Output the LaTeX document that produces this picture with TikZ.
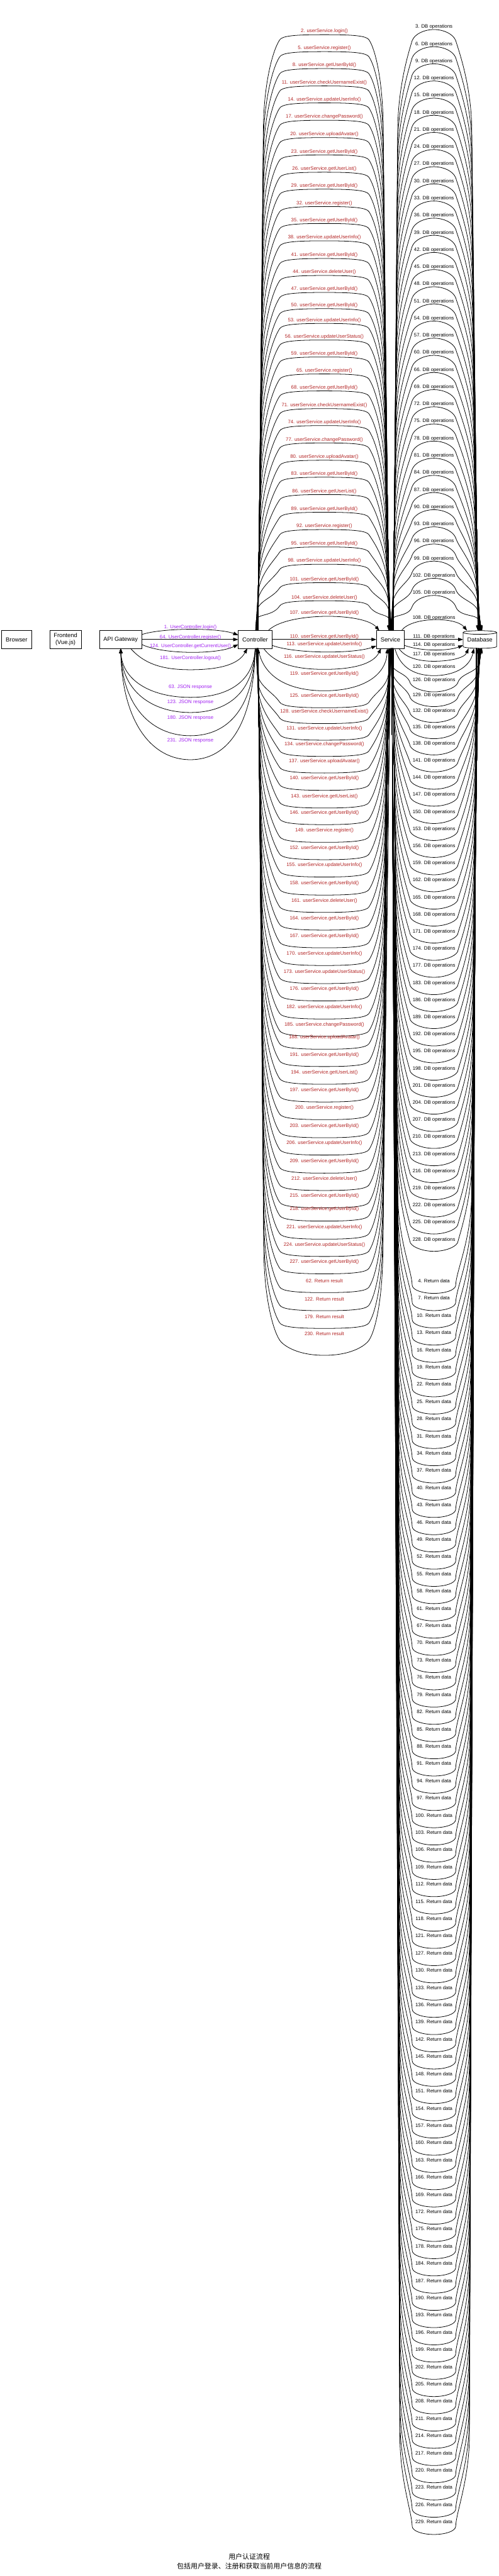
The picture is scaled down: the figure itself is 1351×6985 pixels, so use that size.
\documentclass[tikz,border=0pt]{standalone}
\usepackage{fontspec}
\setmainfont{Liberation Sans}
\newfontfamily\cjkfont{Noto Sans CJK SC}
\usetikzlibrary{arrows.meta}
\definecolor{callred}{HTML}{B22222}
\definecolor{gwpurple}{HTML}{A020F0}

\begin{document}
\begin{tikzpicture}[x=.75pt,y=-.75pt,line width=1pt,
 box/.style={draw,minimum height=36pt,inner sep=2pt,outer sep=0pt,align=center,font=\fontsize{12}{14.4}\selectfont},
 flow/.style={-{Triangle[length=10pt,width=7pt]}},
 gwlab/.style={text=gwpurple,font=\fontsize{10}{12}\selectfont},
 calllab/.style={text=callred,font=\fontsize{10}{12}\selectfont},
 dblab/.style={font=\fontsize{10}{12}\selectfont}]
\useasboundingbox (0,0) rectangle (1351,6985);

% the six participants
\node[box,minimum width=60.75pt] (browser) at (45,1734) {Browser};
\node[box,minimum width=63.75pt] (frontend) at (177.5,1734) {Frontend\\(Vue.js)};
\node[box,minimum width=85.5pt] (gateway) at (327,1734) {API Gateway};
\node[box,minimum width=69pt] (ctrl) at (691.5,1734) {Controller};
\node[box,minimum width=57pt] (svc) at (1058,1734) {Service};
\node[box,draw=none,minimum width=68.25pt] (db) at (1300.5,1734) {Database};
\draw ([yshift=-3.75pt]db.north west) -- ([yshift=3.75pt]db.south west)
  arc[start angle=180,end angle=360,x radius=34.125pt,y radius=3.75pt]
  -- ([yshift=-3.75pt]db.north east);
\draw ([yshift=-3.75pt]db.north) ellipse[x radius=34.125pt,y radius=3.75pt];

% gateway <-> controller
\draw[flow] ([yshift=10pt]gateway.east) .. controls (440,1702) and (590,1702) .. ([yshift=9pt]ctrl.west);
\node[gwlab] (g1) at (516,1701) {1. UserController.login()};
\draw[flow] (gateway.east) -- (ctrl.west);
\node[gwlab] (g64) at (516,1729) {64. UserController.register()};
\draw[flow] ([yshift=-10pt]gateway.east) .. controls (440,1775) and (590,1775) .. ([yshift=-10pt]ctrl.west);
\node[gwlab] (g124) at (516,1752) {124. UserController.getCurrentUser()};
\draw[flow] ([xshift=20pt]gateway.south) .. controls (395,1805) and (450,1816) .. (516,1816)
  .. controls (585,1816) and (645,1805) .. ([xshift=-16pt]ctrl.south);
\node[gwlab] (g181) at (516,1785) {181. UserController.logout()};
\foreach \nr/\yl/\yb in {63/1864/1891,123/1904/1932,180/1947/1995,231/2008/2060} {
  \pgfmathsetmacro\ya{1758+0.67*(\yb-1758)}
  \draw[flow] (ctrl.south) .. controls (688,\ya) and (620,\yb) .. (516,\yb)
    .. controls (412,\yb) and (332,\ya) .. (gateway.south);
  \node[gwlab] (g\nr) at (516,\yl) {\nr. JSON response};
}

% controller -> service, above
\foreach \nr/\m/\yl in {2/login/85,5/register/131,8/getUserById/177,11/checkUsernameExist/224,
  14/updateUserInfo/270,17/changePassword/317,20/uploadAvatar/364,23/getUserById/411,
  26/getUserList/458,29/getUserById/504,32/register/551,35/getUserById/597,
  38/updateUserInfo/644,41/getUserById/692,44/deleteUser/738,47/getUserById/784,
  50/getUserById/828,53/updateUserInfo/868,56/updateUserStatus/913,59/getUserById/959,
  65/register/1005,68/getUserById/1051,71/checkUsernameExist/1099,74/updateUserInfo/1145,
  77/changePassword/1192,80/uploadAvatar/1239,83/getUserById/1285,86/getUserList/1332,
  89/getUserById/1380,92/register/1427,95/getUserById/1474,98/updateUserInfo/1521,
  101/getUserById/1571,104/deleteUser/1620} {
  \pgfmathsetmacro\yc{\yl+23}
  \pgfmathsetmacro\yt{\yl+9}
  \pgfmathsetmacro\legl{1710-\yc}
  \pgfmathsetmacro\fla{min(250,0.6*\legl)}
  \pgfmathsetmacro\yv{\yc+\fla}
  \pgfmathsetmacro\fhy{\yv-0.5*\fla}
  \pgfmathsetmacro\spr{0.5*\legl/(\legl+800)}
  \pgfmathsetmacro\xl{691.5+66.5*\spr}
  \pgfmathsetmacro\xr{1058-58*\spr}
  \draw[flow] ([xshift=18*\spr*1pt]ctrl.north) -- (\xl,\yv) .. controls (\xl,\fhy) and (738,\yc+30) .. (758,\yc)
    .. controls (765,\yc-11) and (800,\yt) .. (879,\yt)
    .. controls (958,\yt) and (993,\yc-11) .. (1000,\yc)
    .. controls (1020,\yc+30) and (\xr,\fhy) .. (\xr,\yv) -- ([xshift=(7-30*\spr)*1pt]svc.north);
  \node[calllab] (c\nr) at (879,\yl) {\nr. userService.\m()};
}

% controller -> service, next to the boxes
\draw[flow] ([xshift=-8pt]ctrl.north east) .. controls (775,1660) and (985,1660) .. ([xshift=6pt]svc.north west);
\node[calllab] (c107) at (879,1662) {107. userService.getUserById()};
\draw[flow] (ctrl.east) -- (svc.west);
\node[calllab] (c110) at (879,1727) {110. userService.getUserById()};
\draw[flow] ([yshift=-12pt]ctrl.east) .. controls (800,1773) and (958,1773) .. ([yshift=-13pt]svc.west);
\node[calllab] (c113) at (879,1747) {113. userService.updateUserInfo()};
\draw[flow] ([xshift=17pt]ctrl.south) .. controls (745,1800) and (800,1815) .. (879,1815)
  .. controls (958,1815) and (1012,1800) .. ([xshift=-19pt]svc.south);
\node[calllab] (c116) at (879,1781) {116. userService.updateUserStatus()};
\draw[flow] ([xshift=6pt]ctrl.south) .. controls (712,1835) and (780,1873) .. (879,1873)
  .. controls (978,1873) and (1045,1835) .. ([xshift=-6pt]svc.south);
\node[calllab] (c119) at (879,1828) {119. userService.getUserById()};

% controller -> service, below
\foreach \nr/\m/\yl in {125/getUserById/1887,128/checkUsernameExist/1930,131/updateUserInfo/1975,
  134/changePassword/2019,137/uploadAvatar/2064,140/getUserById/2111,143/getUserList/2159,
  146/getUserById/2204,149/register/2252,152/getUserById/2299,155/updateUserInfo/2346,
  158/getUserById/2395,161/deleteUser/2442,164/getUserById/2490,167/getUserById/2538,
  170/updateUserInfo/2586,173/updateUserStatus/2635,176/getUserById/2682,
  182/updateUserInfo/2731,185/changePassword/2778,188/uploadAvatar/2813,191/getUserById/2860,
  194/getUserList/2908,197/getUserById/2956,200/register/3004,203/getUserById/3053,
  206/updateUserInfo/3100,209/getUserById/3149,212/deleteUser/3196,215/getUserById/3243,
  218/getUserById/3279,221/updateUserInfo/3328,224/updateUserStatus/3375,227/getUserById/3422} {
  \pgfmathsetmacro\yc{\yl+17}
  \pgfmathsetmacro\yb{\yl+32}
  \pgfmathsetmacro\legl{\yc-1758}
  \pgfmathsetmacro\fla{min(250,0.6*\legl)}
  \pgfmathsetmacro\yv{\yc-\fla}
  \pgfmathsetmacro\fhy{\yv+0.5*\fla}
  \pgfmathsetmacro\spr{0.5*\legl/(\legl+800)}
  \pgfmathsetmacro\xl{691.5+66.5*\spr}
  \pgfmathsetmacro\xr{1058-58*\spr}
  \draw[flow] ([xshift=18*\spr*1pt]ctrl.south) -- (\xl,\yv) .. controls (\xl,\fhy) and (738,\yc-30) .. (758,\yc)
    .. controls (765,\yc+11) and (800,\yb) .. (879,\yb)
    .. controls (958,\yb) and (993,\yc+11) .. (1000,\yc)
    .. controls (1020,\yc-30) and (\xr,\fhy) .. (\xr,\yv) -- ([xshift=(7-30*\spr)*1pt]svc.south);
  \node[calllab] (c\nr) at (879,\yl) {\nr. userService.\m()};
}

% service -> controller
\foreach \nr/\yl/\dp in {62/3473/32,122/3522/32,179/3570/32,230/3617/58} {
  \pgfmathsetmacro\yc{\yl+17}
  \pgfmathsetmacro\yb{\yl+\dp}
  \pgfmathsetmacro\legl{\yc-1758}
  \pgfmathsetmacro\fla{min(250,0.6*\legl)}
  \pgfmathsetmacro\yv{\yc-\fla}
  \pgfmathsetmacro\fhy{\yv+0.5*\fla}
  \pgfmathsetmacro\spr{0.5*\legl/(\legl+800)}
  \pgfmathsetmacro\xl{691.5+66.5*\spr}
  \pgfmathsetmacro\xr{1058-58*\spr}
  \draw[flow] (svc.south) -- (\xr,\yv) .. controls (\xr,\fhy) and (1020,\yc-30) .. (1000,\yc)
    .. controls (993,\yc+11) and (958,\yb) .. (879,\yb)
    .. controls (800,\yb) and (765,\yc+11) .. (758,\yc)
    .. controls (738,\yc-30) and (\xl,\fhy) .. (\xl,\yv) -- ([xshift=6pt]ctrl.south);
  \node[calllab] (rr\nr) at (879,\yl) {\nr. Return result};
}

% service -> database, above
\foreach \cnt in {0,...,33} {
  \pgfmathtruncatemacro\nr{3+3*\cnt+3*(\cnt>19)}
  \pgfmathsetmacro\yl{73+46.5*\cnt}
  \pgfmathsetmacro\yc{\yl+37}
  \pgfmathsetmacro\yt{\yl+7}
  \pgfmathsetmacro\legl{1710-\yc}
  \pgfmathsetmacro\fla{min(250,0.6*\legl)}
  \pgfmathsetmacro\yv{\yc+\fla}
  \pgfmathsetmacro\fhy{\yv-0.5*\fla}
  \pgfmathsetmacro\spr{0.5*\legl/(\legl+800)}
  \pgfmathsetmacro\xl{1058+59*\spr}
  \pgfmathsetmacro\xr{1300.5-65.5*\spr}
  \draw[flow] ([xshift=18*\spr*1pt]svc.north) -- (\xl,\yv) .. controls (\xl,\fhy) and (1108,\yc+30) .. (1117,\yc)
    .. controls (1124,\yc-18) and (1150,\yt) .. (1176,\yt)
    .. controls (1202,\yt) and (1228,\yc-18) .. (1235,\yc)
    .. controls (1244,\yc+30) and (\xr,\fhy) .. (\xr,\yv) -- ([xshift=(6-30*\spr)*1pt]db.north);
  \node[dblab] (d\nr) at (1176,\yl) {\nr. DB operations};
}

% service -> database, next to the boxes
\draw[flow] ([xshift=-6pt]svc.north east) .. controls (1115,1672) and (1235,1672) .. ([xshift=8pt]db.north west);
\node[dblab] (d108) at (1176,1675) {108. DB operations};
\draw[flow] (svc.east) -- (db.west);
\node[dblab] (d111) at (1176,1727) {111. DB operations};
\draw[flow] ([yshift=-12pt]svc.east) .. controls (1140,1766) and (1212,1766) .. ([yshift=-12pt]db.west);
\node[dblab] (d114) at (1176,1748) {114. DB operations};
\draw[flow] ([xshift=17pt]svc.south) .. controls (1100,1786) and (1140,1793) .. (1176,1793)
  .. controls (1212,1793) and (1258,1786) .. ([xshift=-23pt]db.south);
\node[dblab] (d117) at (1176,1775) {117. DB operations};
\draw[flow] ([xshift=9pt]svc.south) .. controls (1085,1815) and (1130,1832) .. (1176,1832)
  .. controls (1222,1832) and (1272,1815) .. ([xshift=-12pt]db.south);
\node[dblab] (d120) at (1176,1808) {120. DB operations};

% service -> database, below
\foreach \nr/\yl in {126/1845,129/1885,132/1928,135/1972,138/2016,141/2062,144/2109,147/2155,
  150/2202,153/2248,156/2294,159/2341,162/2387,165/2434,168/2480,171/2526,174/2573,177/2619,
  183/2666,186/2712,189/2758,192/2805,195/2851,198/2898,201/2944,204/2990,207/3037,210/3083,
  213/3130,216/3176,219/3222,222/3269,225/3315,228/3362} {
  \pgfmathsetmacro\yc{\yl+8}
  \pgfmathsetmacro\yb{\yl+31}
  \pgfmathsetmacro\legl{\yc-1758}
  \pgfmathsetmacro\fla{min(250,0.6*\legl)}
  \pgfmathsetmacro\yv{\yc-\fla}
  \pgfmathsetmacro\fhy{\yv+0.5*\fla}
  \pgfmathsetmacro\spr{0.5*\legl/(\legl+800)}
  \pgfmathsetmacro\xl{1058+54*\spr}
  \pgfmathsetmacro\xr{1300.5-60.5*\spr}
  \draw[flow] ([xshift=18*\spr*1pt]svc.south) -- (\xl,\yv) .. controls (\xl,\fhy) and (1104,\yc-30) .. (1112,\yc)
    .. controls (1120,\yc+14) and (1150,\yb) .. (1176,\yb)
    .. controls (1202,\yb) and (1232,\yc+14) .. (1240,\yc)
    .. controls (1248,\yc-30) and (\xr,\fhy) .. (\xr,\yv) -- ([xshift=(6-30*\spr)*1pt]db.south);
  \node[dblab] (d\nr) at (1176,\yl) {\nr. DB operations};
}

% database -> service
\foreach \cnt in {0,...,72} {
  \pgfmathtruncatemacro\nr{4+3*\cnt+3*((\cnt>19)+(\cnt>38)+(\cnt>56))}
  \pgfmathsetmacro\yl{3473+46.74*\cnt}
  \pgfmathsetmacro\yc{\yl+12}
  \pgfmathsetmacro\yb{\yl+34}
  \pgfmathsetmacro\legl{\yc-1758}
  \pgfmathsetmacro\fla{min(250,0.6*\legl)}
  \pgfmathsetmacro\yv{\yc-\fla}
  \pgfmathsetmacro\fhy{\yv+0.5*\fla}
  \pgfmathsetmacro\spr{0.5*\legl/(\legl+800)}
  \pgfmathsetmacro\xl{1058+59*\spr}
  \pgfmathsetmacro\xr{1300.5-65.5*\spr}
  \draw[flow] ([xshift=-18*\spr*1pt]db.south) -- (\xr,\yv) .. controls (\xr,\fhy) and (1236,\yc-40) .. (1235,\yc)
    .. controls (1234,\yl+26) and (1205,\yb) .. (1176,\yb)
    .. controls (1147,\yb) and (1118,\yl+26) .. (1117,\yc)
    .. controls (1116,\yc-40) and (\xl,\fhy) .. (\xl,\yv) -- ([xshift=(14*\spr-3)*1pt]svc.south);
  \node[dblab] (rd\nr) at (1176,\yl) {\nr. Return data};
}

\node[font=\cjkfont\fontsize{14}{19.5}\selectfont,align=center] (caption) at (675.5,6945)
  {用户认证流程\\包括用户登录、注册和获取当前用户信息的流程};
\end{tikzpicture}
\end{document}
